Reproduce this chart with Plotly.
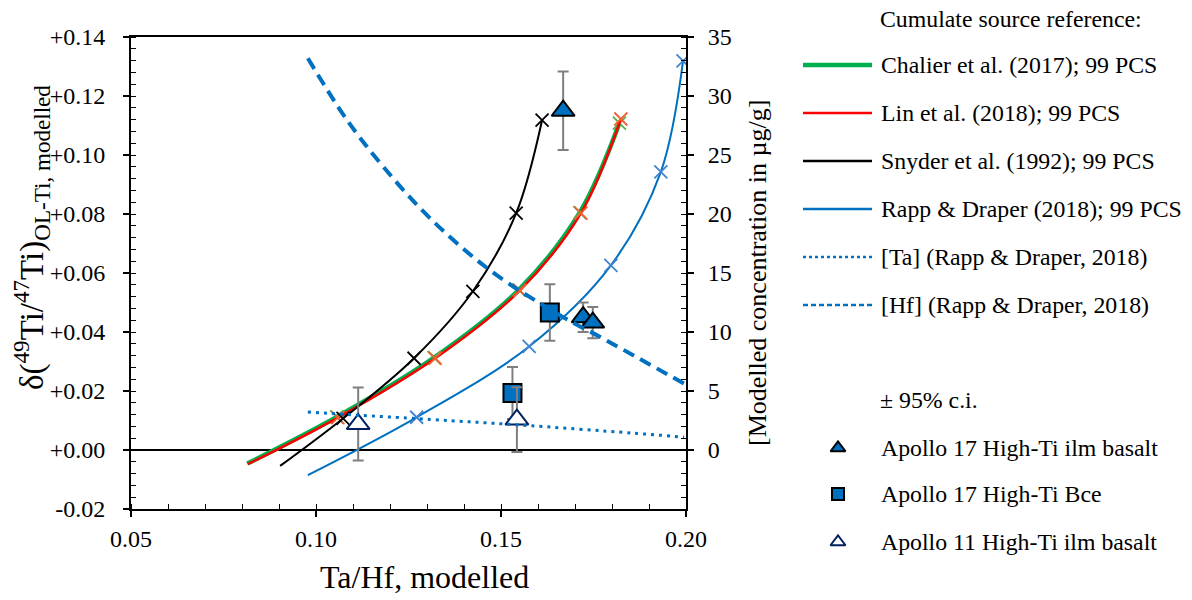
import plotly.graph_objects as go

W, H = 1192, 600

# ---------------- data ----------------
# Model curves, left axis: delta(49Ti/47Ti) vs Ta/Hf ; first point = start of curve, others carry "x" marks
chalier_x = [0.0814, 0.1056, 0.1319, 0.1548, 0.1713, 0.1820]
chalier_y = [-0.0046, 0.0112, 0.0313, 0.0543, 0.0805, 0.1108]
lin_x = [0.0816, 0.1059, 0.1322, 0.1551, 0.1716, 0.1824]
lin_y = [-0.0048, 0.0110, 0.0311, 0.0541, 0.0803, 0.1122]
snyder_x = [0.0903, 0.1073, 0.1265, 0.1424, 0.1541, 0.1611]
snyder_y = [-0.0054, 0.0107, 0.0311, 0.0538, 0.0803, 0.1118]
rapp_x = [0.0978, 0.1272, 0.1576, 0.1797, 0.1932, 0.1992]
rapp_y = [-0.0085, 0.0111, 0.0351, 0.0626, 0.0943, 0.1319]

# Modelled concentrations, right axis (ug/g)
hf_x = [0.0978, 0.1083, 0.1182, 0.1308, 0.1470, 0.1659, 0.1768, 0.1995]
hf_y = [33.2, 28.0, 24.0, 19.65, 15.24, 11.42, 9.58, 5.62]
ta_x = [0.0978, 0.1308, 0.1542, 0.1857, 0.1995]
ta_y = [3.21, 2.59, 2.14, 1.43, 1.09]

# Samples (+/- 95% c.i.)
a17_ilm_x = [0.1668, 0.1722, 0.1748]
a17_ilm_y = [0.1150, 0.0450, 0.0432]
a17_ilm_e = [0.0133, 0.0050, 0.0053]
a17_bce_x = [0.1632, 0.1531]
a17_bce_y = [0.0466, 0.0193]
a17_bce_e = [0.0096, 0.0088]
a11_ilm_x = [0.1543, 0.1114]
a11_ilm_y = [0.0103, 0.0088]
a11_ilm_e = [0.0110, 0.0124]

x_ticks = [0.05, 0.10, 0.15, 0.20]
x_ticklabels = ["0.05", "0.10", "0.15", "0.20"]
yl_ticks = [-0.02, 0.0, 0.02, 0.04, 0.06, 0.08, 0.10, 0.12, 0.14]
yl_ticklabels = ["-0.02", "+0.00", "+0.02", "+0.04", "+0.06", "+0.08", "+0.10", "+0.12", "+0.14"]
yr_ticks = [0, 5, 10, 15, 20, 25, 30, 35]
yr_ticklabels = ["0", "5", "10", "15", "20", "25", "30", "35"]

legend_lines = ["Chalier et al. (2017); 99 PCS", "Lin et al. (2018); 99 PCS",
                "Snyder et al. (1992); 99 PCS", "Rapp & Draper (2018); 99 PCS",
                "[Ta] (Rapp & Draper, 2018)", "[Hf] (Rapp & Draper, 2018)"]
legend_markers = ["Apollo 17 High-Ti ilm basalt", "Apollo 17 High-Ti Bce",
                  "Apollo 11 High-Ti ilm basalt"]

# ---------------- styles ----------------
FONT = "Liberation Serif"
BLUE = "#0070C0"
GREEN = "#00B050"
RED = "#FF0000"
GREY = "#7F7F7F"
NAVY = "#002060"
HF_DASH = "12px,7px"
TA_DASH = "3px,5px"

fig = go.Figure()

# concentration curves (right axis)
fig.add_trace(go.Scatter(x=hf_x, y=hf_y, yaxis="y2", mode="lines",
                         line=dict(color=BLUE, width=4, dash=HF_DASH, shape="spline")))
fig.add_trace(go.Scatter(x=ta_x, y=ta_y, yaxis="y2", mode="lines",
                         line=dict(color=BLUE, width=3, dash=TA_DASH, shape="spline")))


def curve(xs, ys, color, width, mark_color):
    fig.add_trace(go.Scatter(x=xs, y=ys, mode="lines",
                             line=dict(color=color, width=width, shape="spline", smoothing=1.0)))
    fig.add_trace(go.Scatter(x=xs[1:], y=ys[1:], mode="markers",
                             marker=dict(symbol="x-thin", size=13,
                                         line=dict(color=mark_color, width=1.8))))


curve(rapp_x, rapp_y, BLUE, 2, "#3F85CF")
curve(chalier_x, chalier_y, GREEN, 4.5, "#5DAE4A")
curve(lin_x, lin_y, RED, 2.5, "#F06030")
curve(snyder_x, snyder_y, "black", 2, "black")

# samples
err = lambda e: dict(type="data", array=e, color=GREY, thickness=2, width=5.5)
fig.add_trace(go.Scatter(x=a17_bce_x, y=a17_bce_y, mode="markers", error_y=err(a17_bce_e),
                         marker=dict(symbol="square", size=18, color=BLUE,
                                     line=dict(color="black", width=2))))
fig.add_trace(go.Scatter(x=a11_ilm_x, y=a11_ilm_y, mode="markers", error_y=err(a11_ilm_e),
                         marker=dict(symbol="triangle-up", size=20, color="white",
                                     line=dict(color=NAVY, width=2))))
fig.add_trace(go.Scatter(x=a17_ilm_x, y=a17_ilm_y, mode="markers", error_y=err(a17_ilm_e),
                         marker=dict(symbol="triangle-up", size=20, color=BLUE,
                                     line=dict(color="black", width=2))))

# ---------------- custom legend (pixel frame on an overlay axis) ----------------
line_styles = [(GREEN, 4.5, "solid"), (RED, 2.5, "solid"), ("black", 2.5, "solid"),
               (BLUE, 2.5, "solid"), (BLUE, 2.5, "dot"), (BLUE, 2.5, "5px,3px")]
line_rows = [65, 113, 161, 209, 257, 305]
for (c, w, d), yy in zip(line_styles, line_rows):
    fig.add_trace(go.Scatter(x=[803, 872], y=[yy, yy], xaxis="x3", yaxis="y3", mode="lines",
                             line=dict(color=c, width=w, dash=d)))
marker_styles = [dict(symbol="triangle-up", size=13, color=BLUE, line=dict(color="black", width=2)),
                 dict(symbol="square", size=12, color=BLUE, line=dict(color="black", width=2)),
                 dict(symbol="triangle-up", size=13, color="white", line=dict(color=NAVY, width=2))]
marker_rows = [448, 494, 542]
for m, yy in zip(marker_styles, marker_rows):
    fig.add_trace(go.Scatter(x=[838], y=[yy], xaxis="x3", yaxis="y3", mode="markers", marker=m))

annotations = []


def txt(text, px, py, size=24, angle=0, xanchor="left"):
    annotations.append(dict(text=text, x=px / W, y=1 - py / H, xref="paper", yref="paper",
                            xanchor=xanchor, yanchor="middle", showarrow=False, textangle=angle,
                            font=dict(family=FONT, size=size, color="black")))


LEG = 23.8
txt("Cumulate source reference:", 878, 19, size=LEG)
for t, yy in zip(legend_lines, line_rows):
    txt(t, 879, yy, size=LEG)
txt("± 95% c.i.", 878, 400, size=LEG)
for t, yy in zip(legend_markers, marker_rows):
    txt(t, 879, yy, size=LEG)

# axis titles
txt("Ta/Hf, modelled", 424, 577, size=32, xanchor="center")
txt("δ(<sup>49</sup>Ti/<sup>47</sup>Ti)<sub>OL-Ti, modelled</sub>", 31, 238, size=33,
    angle=-90, xanchor="center")
txt("[Modelled concentration in µg/g]", 757, 273, size=26, angle=-90, xanchor="center")

tickfont = dict(family=FONT, size=24, color="black")
x0, x1 = 131 / W, 686 / W
y0, y1 = 1 - 509 / H, 1 - 37 / H

fig.update_layout(
    width=W, height=H, margin=dict(l=0, r=0, t=0, b=0, autoexpand=False),
    paper_bgcolor="white", plot_bgcolor="rgba(0,0,0,0)", showlegend=False,
    font=dict(family=FONT, color="black"),
    annotations=annotations,
    xaxis=dict(domain=[x0, x1], range=[0.05, 0.20], tickmode="array", tickvals=x_ticks,
               ticktext=x_ticklabels, tickfont=tickfont, ticks="outside", ticklen=6, tickwidth=1.5,
               tickcolor="black", showline=True, linecolor="black", linewidth=2, mirror=True,
               showgrid=False, zeroline=False, anchor="y", ticklabelstandoff=1,
               minor=dict(dtick=0.01, tick0=0.05, ticks="inside", ticklen=5, tickwidth=1.2,
                          tickcolor="black", showgrid=False)),
    yaxis=dict(domain=[y0, y1], range=[-0.02, 0.14], tickmode="array", tickvals=yl_ticks,
               ticktext=yl_ticklabels, tickfont=tickfont, ticks="outside", ticklen=6, tickwidth=1.5,
               tickcolor="black", showline=True, linecolor="black", linewidth=2,
               showgrid=False, zeroline=True, zerolinecolor="black", zerolinewidth=1.5,
               anchor="x", ticklabelstandoff=13,
               minor=dict(dtick=0.004, tick0=0, ticks="inside", ticklen=5, tickwidth=1.2,
                          tickcolor="black", showgrid=False)),
    yaxis2=dict(overlaying="y", side="right", anchor="x", range=[-5, 35], tickmode="array",
                tickvals=yr_ticks, ticktext=yr_ticklabels, tickfont=tickfont, ticks="outside",
                ticklen=6, tickwidth=1.5, tickcolor="black", showline=True, linecolor="black",
                linewidth=2, showgrid=False, zeroline=False, ticklabelstandoff=9,
                minor=dict(dtick=1, tick0=0, ticks="inside", ticklen=5, tickwidth=1.2,
                           tickcolor="black", showgrid=False)),
    xaxis3=dict(domain=[0, 1], range=[0, W], visible=False, anchor="y3", fixedrange=True),
    yaxis3=dict(domain=[0, 1], range=[H, 0], visible=False, anchor="x3", fixedrange=True),
)

fig.write_html("out.html")
